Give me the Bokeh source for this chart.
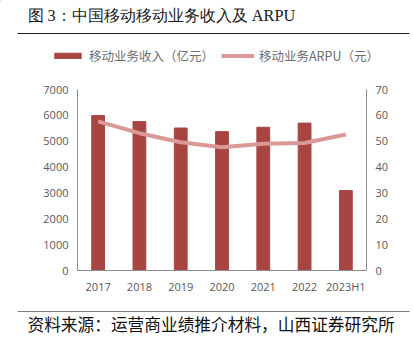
from bokeh.plotting import figure
from bokeh.layouts import column
from bokeh.models import (ColumnDataSource, Range1d, LinearAxis, FixedTicker,
                          Legend, LegendItem)
from bokeh.core.properties import value
from bokeh.embed import file_html
from bokeh.resources import INLINE

years = ["2017", "2018", "2019", "2020", "2021", "2022", "2023H1"]
revenue = [5990, 5760, 5510, 5370, 5540, 5700, 3090]
arpu = [57.7, 53.1, 49.6, 47.7, 49.0, 49.3, 52.6]
left_ticks = [0, 1000, 2000, 3000, 4000, 5000, 6000, 7000]
right_ticks = [0, 10, 20, 30, 40, 50, 60, 70]

title_text = "图 3：中国移动移动业务收入及 ARPU"
legend_bar = "移动业务收入（亿元）"
legend_line = "移动业务ARPU（元）"
source_text = "资料来源：运营商业绩推介材料，山西证券研究所"

BAR = "#A84442"
LINE = "#DA9897"
AX = "#8C8C8C"
TXT = "#595959"
LEGTXT = "#6E6E6E"
NUMFONT = "Open Sans"
CJK = "Noto Sans CJK SC"
W = 413


def blank(h):
    f = figure(width=W, height=h, x_range=Range1d(0, W), y_range=Range1d(h, 0),
               x_axis_type=None, y_axis_type=None, output_backend="svg",
               toolbar_location=None, min_border=0, min_border_left=0,
               min_border_right=0, min_border_top=0, min_border_bottom=0,
               frame_align=False)
    f.outline_line_color = None
    f.xgrid.grid_line_color = None
    f.ygrid.grid_line_color = None
    f.background_fill_color = "white"
    f.border_fill_color = "white"
    return f


# ---- top: title + legend
TOP_H = 76
top = blank(TOP_H)
top.text(x=[27], y=[15], text=[title_text], text_font=value("Liberation Serif"),
         text_font_size="16.3px", text_color="#1A1A1A", text_baseline="middle")
top.segment(x0=[17], y0=[33], x1=[409], y1=[33], line_color="#222222", line_width=1)
# proxy renderers (off-screen) so the legend can show the chart's swatches
proxy = ColumnDataSource(dict(x=[-1000], top=[-1000], y=[-1000]))
dbar = top.vbar(x="x", top="top", width=1, color=BAR, source=proxy)
dline = top.line(x="x", y="y", line_width=4, color=LINE, source=proxy)
legend = Legend(items=[LegendItem(label=legend_bar, renderers=[dbar]),
                       LegendItem(label=legend_line, renderers=[dline])],
                location=(51, 11), orientation="horizontal",
                glyph_width=33, glyph_height=7, label_height=12, label_standoff=5,
                spacing=7, padding=0, margin=0,
                border_line_color=None, background_fill_alpha=0,
                label_text_font=CJK, label_text_font_size="12.5px",
                label_text_color=LEGTXT)
top.add_layout(legend, "center")

# ---- main chart
MAIN_H = 224
src = ColumnDataSource(dict(x=years, rev=revenue, arpu=arpu))
p = figure(width=W, height=MAIN_H, x_range=years, y_range=Range1d(0, 7000),
           output_backend="svg", toolbar_location=None, frame_align=False,
           min_border_left=77, min_border_right=47, min_border_top=13, min_border_bottom=30)
p.extra_y_ranges = {"arpu": Range1d(0, 70)}
p.outline_line_color = None
p.background_fill_color = "white"
p.border_fill_color = "white"
p.xgrid.grid_line_color = None
p.ygrid.grid_line_color = None

p.vbar(x="x", top="rev", width=0.31, color=BAR, source=src)
p.line(x="x", y="arpu", line_width=4, color=LINE, y_range_name="arpu", source=src)

ra = LinearAxis(y_range_name="arpu", ticker=FixedTicker(ticks=right_ticks))
p.add_layout(ra, "right")
p.yaxis[0].ticker = FixedTicker(ticks=left_ticks)
for ax in [p.xaxis[0], p.yaxis[0], ra]:
    ax.axis_line_color = AX
    ax.major_tick_line_color = None
    ax.minor_tick_line_color = None
    ax.major_tick_out = 0
    ax.major_tick_in = 0
    ax.minor_tick_out = 0
    ax.major_label_text_color = TXT
    ax.major_label_text_font = NUMFONT
    ax.major_label_text_font_size = "11px"
p.yaxis[0].major_label_standoff = 9
ra.major_label_standoff = 9
p.xaxis[0].major_label_standoff = 8

# ---- bottom: source
BOT_H = 350 - TOP_H - MAIN_H
bot = blank(BOT_H)
bot.segment(x0=[17], y0=[11], x1=[409], y1=[11], line_color="#7F7F7F", line_width=1)
bot.text(x=[27], y=[23], text=[source_text], text_font=value(CJK),
         text_font_size="16.7px", text_color="#111111", text_baseline="middle")

layout = column(top, p, bot, spacing=0)
open("out.html", "w").write(file_html(layout, INLINE))
